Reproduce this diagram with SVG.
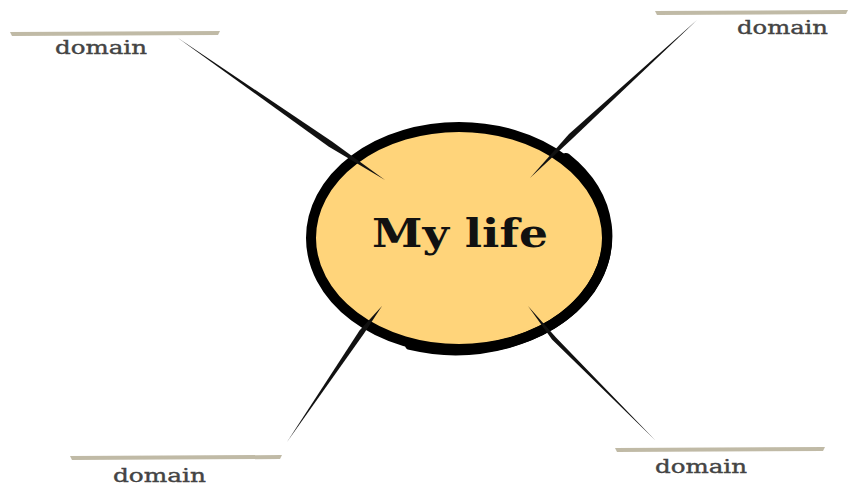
<svg xmlns="http://www.w3.org/2000/svg" width="851" height="488" viewBox="0 0 851 488">
<style>
.bar{fill:#B9B29C;opacity:0.9}
.lbl{font-family:"DejaVu Serif","Liberation Serif",serif;font-size:19px;fill:#444;stroke:#444;stroke-width:0.4;text-anchor:start}
.brush{fill:#111}
.title{font-family:"DejaVu Serif","Liberation Serif",serif;font-size:40px;font-weight:bold;fill:#111}
</style>
<rect width="851" height="488" fill="#fff"/>
<g id="center">
<ellipse cx="459" cy="238" rx="148" ry="111" fill="#FFD47A" stroke="#000" stroke-width="10"/>
<path d="M566,158 A152,114 0 0 1 410,345" fill="none" stroke="#000" stroke-width="10" stroke-linecap="round"/>
<text class="title" x="372" y="247" textLength="176" lengthAdjust="spacingAndGlyphs">My life</text>
</g>
<g id="connectors">
<polygon class="brush" points="385,180 332,141.5 178,38 328.5,146.5"/>
<polygon class="brush" points="530,178 573,138 697,20 569,134"/>
<polygon class="brush" points="382,306 364,333.5 287,442 359.5,330.5"/>
<polygon class="brush" points="528,306 556,337.5 655,440 552,339.5"/>
</g>
<g id="domain-tl">
<path class="bar" d="M10,32 L220,31 L218,35 L12,36 Z"/>
<text class="lbl" x="55" y="54" textLength="92" lengthAdjust="spacingAndGlyphs">domain</text>
</g>
<g id="domain-tr">
<path class="bar" d="M655,11 L848,10 L846,14 L657,15 Z"/>
<text class="lbl" x="737" y="34" textLength="91" lengthAdjust="spacingAndGlyphs">domain</text>
</g>
<g id="domain-bl">
<path class="bar" d="M70,456 L282,455 L280,459 L72,460 Z"/>
<text class="lbl" x="113" y="482" textLength="93" lengthAdjust="spacingAndGlyphs">domain</text>
</g>
<g id="domain-br">
<path class="bar" d="M615,448 L825,447 L823,451 L617,452 Z"/>
<text class="lbl" x="655" y="473" textLength="92" lengthAdjust="spacingAndGlyphs">domain</text>
</g>
</svg>
